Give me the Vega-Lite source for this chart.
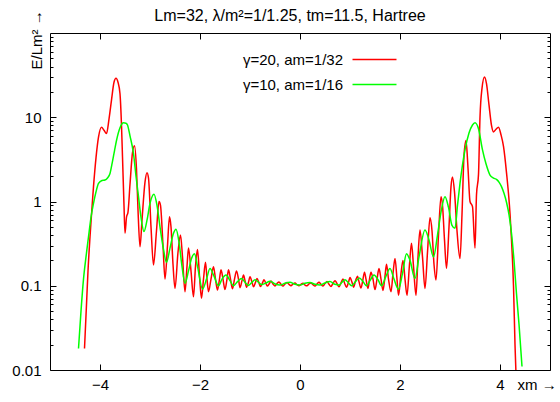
{
"$schema": "https://vega.github.io/schema/vega-lite/v6.json",
"width": 500, "height": 337,
"autosize": "none",
"padding": {"left": 50, "top": 33, "right": 10, "bottom": 32},
"background": "white",
"config": {
  "view": {"stroke": "black", "strokeWidth": 1},
  "font": "Liberation Sans",
  "axis": {"grid": false, "domain": false, "labelFont": "Liberation Sans", "labelFontSize": 15, "labelColor": "black", "tickColor": "black", "tickWidth": 1, "titleFont": "Liberation Sans", "titleFontSize": 15, "titleFontWeight": "normal", "titleColor": "black", "labelFlush": false, "labelOverlap": false}
},
"title": {"text": "Lm=32, λ/m²=1/1.25, tm=11.5, Hartree", "font": "Liberation Sans", "fontSize": 16, "fontWeight": "normal", "color": "black", "anchor": "middle", "frame": "group", "offset": -14, "dx": -10},
"datasets": {
"c": [
{"s":"γ=20, am=1/32","x":-4.31,"y":0.018},{"s":"γ=20, am=1/32","x":-4.27,"y":0.06},{"s":"γ=20, am=1/32","x":-4.24,"y":0.15},{"s":"γ=20, am=1/32","x":-4.2,"y":0.38},{"s":"γ=20, am=1/32","x":-4.16,"y":0.85},{"s":"γ=20, am=1/32","x":-4.13,"y":1.5},{"s":"γ=20, am=1/32","x":-4.08,"y":3.3},{"s":"γ=20, am=1/32","x":-4.03,"y":5.8},{"s":"γ=20, am=1/32","x":-3.97,"y":7.6},{"s":"γ=20, am=1/32","x":-3.92,"y":7.0},{"s":"γ=20, am=1/32","x":-3.87,"y":6.4},{"s":"γ=20, am=1/32","x":-3.82,"y":9.5},{"s":"γ=20, am=1/32","x":-3.77,"y":16},{"s":"γ=20, am=1/32","x":-3.72,"y":26},{"s":"γ=20, am=1/32","x":-3.68,"y":29},{"s":"γ=20, am=1/32","x":-3.64,"y":26},{"s":"γ=20, am=1/32","x":-3.6,"y":19},{"s":"γ=20, am=1/32","x":-3.57,"y":8},{"s":"γ=20, am=1/32","x":-3.55,"y":3.4},{"s":"γ=20, am=1/32","x":-3.52,"y":0.9},{"s":"γ=20, am=1/32","x":-3.5,"y":0.42},{"s":"γ=20, am=1/32","x":-3.47,"y":0.65},{"s":"γ=20, am=1/32","x":-3.44,"y":0.75},{"s":"γ=20, am=1/32","x":-3.4,"y":1.6},{"s":"γ=20, am=1/32","x":-3.35,"y":3.8},{"s":"γ=20, am=1/32","x":-3.31,"y":4.6},{"s":"γ=20, am=1/32","x":-3.27,"y":2.4},{"s":"γ=20, am=1/32","x":-3.24,"y":0.8},{"s":"γ=20, am=1/32","x":-3.2,"y":0.29},{"s":"γ=20, am=1/32","x":-3.16,"y":0.6},{"s":"γ=20, am=1/32","x":-3.1,"y":1.7},{"s":"γ=20, am=1/32","x":-3.06,"y":2.2},{"s":"γ=20, am=1/32","x":-3.03,"y":1.9},{"s":"γ=20, am=1/32","x":-2.98,"y":0.5},{"s":"γ=20, am=1/32","x":-2.93,"y":0.176},{"s":"γ=20, am=1/32","x":-2.87,"y":0.45},{"s":"γ=20, am=1/32","x":-2.82,"y":1.0},{"s":"γ=20, am=1/32","x":-2.79,"y":0.9},{"s":"γ=20, am=1/32","x":-2.74,"y":0.3},{"s":"γ=20, am=1/32","x":-2.7,"y":0.12},{"s":"γ=20, am=1/32","x":-2.65,"y":0.3},{"s":"γ=20, am=1/32","x":-2.61,"y":0.66},{"s":"γ=20, am=1/32","x":-2.58,"y":0.5},{"s":"γ=20, am=1/32","x":-2.54,"y":0.18},{"s":"γ=20, am=1/32","x":-2.5,"y":0.093},{"s":"γ=20, am=1/32","x":-2.44,"y":0.25},{"s":"γ=20, am=1/32","x":-2.39,"y":0.40},{"s":"γ=20, am=1/32","x":-2.35,"y":0.22},{"s":"γ=20, am=1/32","x":-2.3,"y":0.085},{"s":"γ=20, am=1/32","x":-2.26,"y":0.17},{"s":"γ=20, am=1/32","x":-2.23,"y":0.28},{"s":"γ=20, am=1/32","x":-2.18,"y":0.15},{"s":"γ=20, am=1/32","x":-2.13,"y":0.074},{"s":"γ=20, am=1/32","x":-2.09,"y":0.17},{"s":"γ=20, am=1/32","x":-2.05,"y":0.27},{"s":"γ=20, am=1/32","x":-2.01,"y":0.13},{"s":"γ=20, am=1/32","x":-1.97,"y":0.071},{"s":"γ=20, am=1/32","x":-1.93,"y":0.12},{"s":"γ=20, am=1/32","x":-1.89,"y":0.19},{"s":"γ=20, am=1/32","x":-1.86,"y":0.12},{"s":"γ=20, am=1/32","x":-1.83,"y":0.085},{"s":"γ=20, am=1/32","x":-1.78,"y":0.12},{"s":"γ=20, am=1/32","x":-1.73,"y":0.168},{"s":"γ=20, am=1/32","x":-1.69,"y":0.12},{"s":"γ=20, am=1/32","x":-1.65,"y":0.089},{"s":"γ=20, am=1/32","x":-1.61,"y":0.12},{"s":"γ=20, am=1/32","x":-1.58,"y":0.155},{"s":"γ=20, am=1/32","x":-1.54,"y":0.12},{"s":"γ=20, am=1/32","x":-1.5,"y":0.09},{"s":"γ=20, am=1/32","x":-1.46,"y":0.12},{"s":"γ=20, am=1/32","x":-1.43,"y":0.155},{"s":"γ=20, am=1/32","x":-1.39,"y":0.12},{"s":"γ=20, am=1/32","x":-1.35,"y":0.092},{"s":"γ=20, am=1/32","x":-1.31,"y":0.12},{"s":"γ=20, am=1/32","x":-1.27,"y":0.15},{"s":"γ=20, am=1/32","x":-1.23,"y":0.12},{"s":"γ=20, am=1/32","x":-1.2,"y":0.095},{"s":"γ=20, am=1/32","x":-1.16,"y":0.115},{"s":"γ=20, am=1/32","x":-1.13,"y":0.134},{"s":"γ=20, am=1/32","x":-1.1,"y":0.115},{"s":"γ=20, am=1/32","x":-1.07,"y":0.096},{"s":"γ=20, am=1/32","x":-1.03,"y":0.11},{"s":"γ=20, am=1/32","x":-1.0,"y":0.128},{"s":"γ=20, am=1/32","x":-0.96,"y":0.11},{"s":"γ=20, am=1/32","x":-0.93,"y":0.097},{"s":"γ=20, am=1/32","x":-0.89,"y":0.11},{"s":"γ=20, am=1/32","x":-0.86,"y":0.122},{"s":"γ=20, am=1/32","x":-0.82,"y":0.108},{"s":"γ=20, am=1/32","x":-0.79,"y":0.098},{"s":"γ=20, am=1/32","x":-0.75,"y":0.108},{"s":"γ=20, am=1/32","x":-0.72,"y":0.118},{"s":"γ=20, am=1/32","x":-0.68,"y":0.106},{"s":"γ=20, am=1/32","x":-0.65,"y":0.099},{"s":"γ=20, am=1/32","x":-0.61,"y":0.107},{"s":"γ=20, am=1/32","x":-0.58,"y":0.114},{"s":"γ=20, am=1/32","x":-0.54,"y":0.105},{"s":"γ=20, am=1/32","x":-0.5,"y":0.099},{"s":"γ=20, am=1/32","x":-0.46,"y":0.106},{"s":"γ=20, am=1/32","x":-0.42,"y":0.111},{"s":"γ=20, am=1/32","x":-0.38,"y":0.104},{"s":"γ=20, am=1/32","x":-0.34,"y":0.099},{"s":"γ=20, am=1/32","x":-0.3,"y":0.105},{"s":"γ=20, am=1/32","x":-0.26,"y":0.109},{"s":"γ=20, am=1/32","x":-0.22,"y":0.104},{"s":"γ=20, am=1/32","x":-0.18,"y":0.1},{"s":"γ=20, am=1/32","x":-0.14,"y":0.105},{"s":"γ=20, am=1/32","x":-0.1,"y":0.108},{"s":"γ=20, am=1/32","x":-0.06,"y":0.103},{"s":"γ=20, am=1/32","x":-0.02,"y":0.1},{"s":"γ=20, am=1/32","x":0.02,"y":0.104},{"s":"γ=20, am=1/32","x":0.06,"y":0.107},{"s":"γ=20, am=1/32","x":0.1,"y":0.102},{"s":"γ=20, am=1/32","x":0.14,"y":0.1},{"s":"γ=20, am=1/32","x":0.18,"y":0.105},{"s":"γ=20, am=1/32","x":0.22,"y":0.108},{"s":"γ=20, am=1/32","x":0.26,"y":0.103},{"s":"γ=20, am=1/32","x":0.3,"y":0.099},{"s":"γ=20, am=1/32","x":0.34,"y":0.105},{"s":"γ=20, am=1/32","x":0.38,"y":0.11},{"s":"γ=20, am=1/32","x":0.42,"y":0.104},{"s":"γ=20, am=1/32","x":0.46,"y":0.099},{"s":"γ=20, am=1/32","x":0.5,"y":0.106},{"s":"γ=20, am=1/32","x":0.54,"y":0.112},{"s":"γ=20, am=1/32","x":0.58,"y":0.104},{"s":"γ=20, am=1/32","x":0.62,"y":0.098},{"s":"γ=20, am=1/32","x":0.66,"y":0.107},{"s":"γ=20, am=1/32","x":0.7,"y":0.115},{"s":"γ=20, am=1/32","x":0.74,"y":0.106},{"s":"γ=20, am=1/32","x":0.78,"y":0.097},{"s":"γ=20, am=1/32","x":0.82,"y":0.108},{"s":"γ=20, am=1/32","x":0.86,"y":0.12},{"s":"γ=20, am=1/32","x":0.89,"y":0.108},{"s":"γ=20, am=1/32","x":0.93,"y":0.096},{"s":"γ=20, am=1/32","x":0.97,"y":0.11},{"s":"γ=20, am=1/32","x":1.0,"y":0.125},{"s":"γ=20, am=1/32","x":1.04,"y":0.11},{"s":"γ=20, am=1/32","x":1.07,"y":0.096},{"s":"γ=20, am=1/32","x":1.11,"y":0.114},{"s":"γ=20, am=1/32","x":1.15,"y":0.13},{"s":"γ=20, am=1/32","x":1.18,"y":0.112},{"s":"γ=20, am=1/32","x":1.22,"y":0.094},{"s":"γ=20, am=1/32","x":1.26,"y":0.12},{"s":"γ=20, am=1/32","x":1.29,"y":0.145},{"s":"γ=20, am=1/32","x":1.32,"y":0.12},{"s":"γ=20, am=1/32","x":1.36,"y":0.093},{"s":"γ=20, am=1/32","x":1.39,"y":0.12},{"s":"γ=20, am=1/32","x":1.42,"y":0.145},{"s":"γ=20, am=1/32","x":1.46,"y":0.12},{"s":"γ=20, am=1/32","x":1.5,"y":0.09},{"s":"γ=20, am=1/32","x":1.54,"y":0.12},{"s":"γ=20, am=1/32","x":1.58,"y":0.16},{"s":"γ=20, am=1/32","x":1.62,"y":0.12},{"s":"γ=20, am=1/32","x":1.66,"y":0.088},{"s":"γ=20, am=1/32","x":1.7,"y":0.13},{"s":"γ=20, am=1/32","x":1.73,"y":0.18},{"s":"γ=20, am=1/32","x":1.77,"y":0.12},{"s":"γ=20, am=1/32","x":1.82,"y":0.085},{"s":"γ=20, am=1/32","x":1.86,"y":0.14},{"s":"γ=20, am=1/32","x":1.9,"y":0.21},{"s":"γ=20, am=1/32","x":1.94,"y":0.12},{"s":"γ=20, am=1/32","x":1.97,"y":0.077},{"s":"γ=20, am=1/32","x":2.02,"y":0.14},{"s":"γ=20, am=1/32","x":2.06,"y":0.2},{"s":"γ=20, am=1/32","x":2.1,"y":0.12},{"s":"γ=20, am=1/32","x":2.14,"y":0.077},{"s":"γ=20, am=1/32","x":2.19,"y":0.18},{"s":"γ=20, am=1/32","x":2.23,"y":0.32},{"s":"γ=20, am=1/32","x":2.27,"y":0.17},{"s":"γ=20, am=1/32","x":2.32,"y":0.077},{"s":"γ=20, am=1/32","x":2.36,"y":0.22},{"s":"γ=20, am=1/32","x":2.4,"y":0.46},{"s":"γ=20, am=1/32","x":2.45,"y":0.22},{"s":"γ=20, am=1/32","x":2.5,"y":0.093},{"s":"γ=20, am=1/32","x":2.55,"y":0.25},{"s":"γ=20, am=1/32","x":2.6,"y":0.64},{"s":"γ=20, am=1/32","x":2.64,"y":0.45},{"s":"γ=20, am=1/32","x":2.68,"y":0.18},{"s":"γ=20, am=1/32","x":2.72,"y":0.117},{"s":"γ=20, am=1/32","x":2.77,"y":0.4},{"s":"γ=20, am=1/32","x":2.82,"y":1.14},{"s":"γ=20, am=1/32","x":2.85,"y":0.9},{"s":"γ=20, am=1/32","x":2.89,"y":0.35},{"s":"γ=20, am=1/32","x":2.93,"y":0.16},{"s":"γ=20, am=1/32","x":2.98,"y":0.5},{"s":"γ=20, am=1/32","x":3.02,"y":1.5},{"s":"γ=20, am=1/32","x":3.05,"y":1.96},{"s":"γ=20, am=1/32","x":3.09,"y":1.3},{"s":"γ=20, am=1/32","x":3.14,"y":0.45},{"s":"γ=20, am=1/32","x":3.2,"y":0.21},{"s":"γ=20, am=1/32","x":3.24,"y":0.7},{"s":"γ=20, am=1/32","x":3.28,"y":3.5},{"s":"γ=20, am=1/32","x":3.32,"y":5.3},{"s":"γ=20, am=1/32","x":3.36,"y":2.5},{"s":"γ=20, am=1/32","x":3.4,"y":1.0},{"s":"γ=20, am=1/32","x":3.45,"y":0.87},{"s":"γ=20, am=1/32","x":3.5,"y":0.28},{"s":"γ=20, am=1/32","x":3.53,"y":1.2},{"s":"γ=20, am=1/32","x":3.57,"y":2.1},{"s":"γ=20, am=1/32","x":3.6,"y":10},{"s":"γ=20, am=1/32","x":3.64,"y":22},{"s":"γ=20, am=1/32","x":3.69,"y":30},{"s":"γ=20, am=1/32","x":3.73,"y":25},{"s":"γ=20, am=1/32","x":3.78,"y":14},{"s":"γ=20, am=1/32","x":3.83,"y":8},{"s":"γ=20, am=1/32","x":3.87,"y":6.7},{"s":"γ=20, am=1/32","x":3.92,"y":7.2},{"s":"γ=20, am=1/32","x":3.97,"y":7.6},{"s":"γ=20, am=1/32","x":4.02,"y":6.2},{"s":"γ=20, am=1/32","x":4.07,"y":4.5},{"s":"γ=20, am=1/32","x":4.13,"y":2.2},{"s":"γ=20, am=1/32","x":4.2,"y":0.72},{"s":"γ=20, am=1/32","x":4.23,"y":0.35},{"s":"γ=20, am=1/32","x":4.27,"y":0.1},{"s":"γ=20, am=1/32","x":4.3,"y":0.02},{"s":"γ=20, am=1/32","x":4.33,"y":0.006},
{"s":"γ=10, am=1/16","x":-4.43,"y":0.018},{"s":"γ=10, am=1/16","x":-4.38,"y":0.05},{"s":"γ=10, am=1/16","x":-4.33,"y":0.12},{"s":"γ=10, am=1/16","x":-4.28,"y":0.22},{"s":"γ=10, am=1/16","x":-4.23,"y":0.38},{"s":"γ=10, am=1/16","x":-4.18,"y":0.65},{"s":"γ=10, am=1/16","x":-4.13,"y":0.95},{"s":"γ=10, am=1/16","x":-4.08,"y":1.3},{"s":"γ=10, am=1/16","x":-4.03,"y":1.64},{"s":"γ=10, am=1/16","x":-3.96,"y":1.78},{"s":"γ=10, am=1/16","x":-3.9,"y":1.8},{"s":"γ=10, am=1/16","x":-3.85,"y":1.9},{"s":"γ=10, am=1/16","x":-3.8,"y":2.15},{"s":"γ=10, am=1/16","x":-3.75,"y":3.0},{"s":"γ=10, am=1/16","x":-3.71,"y":4.0},{"s":"γ=10, am=1/16","x":-3.67,"y":5.3},{"s":"γ=10, am=1/16","x":-3.6,"y":7.5},{"s":"γ=10, am=1/16","x":-3.53,"y":8.6},{"s":"γ=10, am=1/16","x":-3.48,"y":8.5},{"s":"γ=10, am=1/16","x":-3.45,"y":8.1},{"s":"γ=10, am=1/16","x":-3.4,"y":6},{"s":"γ=10, am=1/16","x":-3.33,"y":3.7},{"s":"γ=10, am=1/16","x":-3.28,"y":2.0},{"s":"γ=10, am=1/16","x":-3.23,"y":1.14},{"s":"γ=10, am=1/16","x":-3.18,"y":0.65},{"s":"γ=10, am=1/16","x":-3.12,"y":0.44},{"s":"γ=10, am=1/16","x":-3.06,"y":0.6},{"s":"γ=10, am=1/16","x":-3.0,"y":0.95},{"s":"γ=10, am=1/16","x":-2.92,"y":1.22},{"s":"γ=10, am=1/16","x":-2.86,"y":0.9},{"s":"γ=10, am=1/16","x":-2.8,"y":0.5},{"s":"γ=10, am=1/16","x":-2.73,"y":0.27},{"s":"γ=10, am=1/16","x":-2.67,"y":0.19},{"s":"γ=10, am=1/16","x":-2.6,"y":0.28},{"s":"γ=10, am=1/16","x":-2.53,"y":0.42},{"s":"γ=10, am=1/16","x":-2.48,"y":0.47},{"s":"γ=10, am=1/16","x":-2.42,"y":0.33},{"s":"γ=10, am=1/16","x":-2.36,"y":0.17},{"s":"γ=10, am=1/16","x":-2.3,"y":0.107},{"s":"γ=10, am=1/16","x":-2.23,"y":0.15},{"s":"γ=10, am=1/16","x":-2.17,"y":0.21},{"s":"γ=10, am=1/16","x":-2.11,"y":0.24},{"s":"γ=10, am=1/16","x":-2.05,"y":0.17},{"s":"γ=10, am=1/16","x":-1.95,"y":0.091},{"s":"γ=10, am=1/16","x":-1.87,"y":0.12},{"s":"γ=10, am=1/16","x":-1.8,"y":0.16},{"s":"γ=10, am=1/16","x":-1.72,"y":0.13},{"s":"γ=10, am=1/16","x":-1.63,"y":0.1},{"s":"γ=10, am=1/16","x":-1.56,"y":0.12},{"s":"γ=10, am=1/16","x":-1.48,"y":0.134},{"s":"γ=10, am=1/16","x":-1.4,"y":0.115},{"s":"γ=10, am=1/16","x":-1.33,"y":0.1},{"s":"γ=10, am=1/16","x":-1.25,"y":0.112},{"s":"γ=10, am=1/16","x":-1.17,"y":0.122},{"s":"γ=10, am=1/16","x":-1.1,"y":0.11},{"s":"γ=10, am=1/16","x":-1.03,"y":0.101},{"s":"γ=10, am=1/16","x":-0.96,"y":0.11},{"s":"γ=10, am=1/16","x":-0.9,"y":0.118},{"s":"γ=10, am=1/16","x":-0.83,"y":0.11},{"s":"γ=10, am=1/16","x":-0.77,"y":0.103},{"s":"γ=10, am=1/16","x":-0.68,"y":0.108},{"s":"γ=10, am=1/16","x":-0.6,"y":0.113},{"s":"γ=10, am=1/16","x":-0.5,"y":0.105},{"s":"γ=10, am=1/16","x":-0.4,"y":0.102},{"s":"γ=10, am=1/16","x":-0.3,"y":0.107},{"s":"γ=10, am=1/16","x":-0.2,"y":0.11},{"s":"γ=10, am=1/16","x":-0.1,"y":0.104},{"s":"γ=10, am=1/16","x":0.0,"y":0.102},{"s":"γ=10, am=1/16","x":0.1,"y":0.107},{"s":"γ=10, am=1/16","x":0.2,"y":0.109},{"s":"γ=10, am=1/16","x":0.3,"y":0.104},{"s":"γ=10, am=1/16","x":0.4,"y":0.102},{"s":"γ=10, am=1/16","x":0.5,"y":0.108},{"s":"γ=10, am=1/16","x":0.6,"y":0.112},{"s":"γ=10, am=1/16","x":0.7,"y":0.104},{"s":"γ=10, am=1/16","x":0.78,"y":0.102},{"s":"γ=10, am=1/16","x":0.84,"y":0.11},{"s":"γ=10, am=1/16","x":0.9,"y":0.118},{"s":"γ=10, am=1/16","x":0.97,"y":0.108},{"s":"γ=10, am=1/16","x":1.03,"y":0.1},{"s":"γ=10, am=1/16","x":1.11,"y":0.112},{"s":"γ=10, am=1/16","x":1.19,"y":0.124},{"s":"γ=10, am=1/16","x":1.26,"y":0.112},{"s":"γ=10, am=1/16","x":1.33,"y":0.1},{"s":"γ=10, am=1/16","x":1.4,"y":0.115},{"s":"γ=10, am=1/16","x":1.48,"y":0.134},{"s":"γ=10, am=1/16","x":1.56,"y":0.118},{"s":"γ=10, am=1/16","x":1.63,"y":0.1},{"s":"γ=10, am=1/16","x":1.72,"y":0.13},{"s":"γ=10, am=1/16","x":1.8,"y":0.16},{"s":"γ=10, am=1/16","x":1.88,"y":0.12},{"s":"γ=10, am=1/16","x":1.97,"y":0.091},{"s":"γ=10, am=1/16","x":2.05,"y":0.14},{"s":"γ=10, am=1/16","x":2.13,"y":0.24},{"s":"γ=10, am=1/16","x":2.2,"y":0.2},{"s":"γ=10, am=1/16","x":2.3,"y":0.122},{"s":"γ=10, am=1/16","x":2.38,"y":0.22},{"s":"γ=10, am=1/16","x":2.5,"y":0.46},{"s":"γ=10, am=1/16","x":2.58,"y":0.35},{"s":"γ=10, am=1/16","x":2.67,"y":0.22},{"s":"γ=10, am=1/16","x":2.75,"y":0.4},{"s":"γ=10, am=1/16","x":2.82,"y":0.75},{"s":"γ=10, am=1/16","x":2.9,"y":1.14},{"s":"γ=10, am=1/16","x":2.97,"y":0.85},{"s":"γ=10, am=1/16","x":3.04,"y":0.52},{"s":"γ=10, am=1/16","x":3.1,"y":0.48},{"s":"γ=10, am=1/16","x":3.15,"y":0.9},{"s":"γ=10, am=1/16","x":3.2,"y":1.64},{"s":"γ=10, am=1/16","x":3.3,"y":4.1},{"s":"γ=10, am=1/16","x":3.38,"y":6.5},{"s":"γ=10, am=1/16","x":3.45,"y":8.1},{"s":"γ=10, am=1/16","x":3.5,"y":8.6},{"s":"γ=10, am=1/16","x":3.57,"y":7.3},{"s":"γ=10, am=1/16","x":3.65,"y":4.1},{"s":"γ=10, am=1/16","x":3.72,"y":2.8},{"s":"γ=10, am=1/16","x":3.8,"y":2.06},{"s":"γ=10, am=1/16","x":3.87,"y":1.9},{"s":"γ=10, am=1/16","x":3.93,"y":1.83},{"s":"γ=10, am=1/16","x":3.98,"y":1.7},{"s":"γ=10, am=1/16","x":4.03,"y":1.5},{"s":"γ=10, am=1/16","x":4.08,"y":1.25},{"s":"γ=10, am=1/16","x":4.13,"y":0.98},{"s":"γ=10, am=1/16","x":4.18,"y":0.7},{"s":"γ=10, am=1/16","x":4.23,"y":0.42},{"s":"γ=10, am=1/16","x":4.28,"y":0.2},{"s":"γ=10, am=1/16","x":4.33,"y":0.08},{"s":"γ=10, am=1/16","x":4.38,"y":0.035},{"s":"γ=10, am=1/16","x":4.44,"y":0.011}
]},
"layer": [
 {
  "data": {"name": "c"},
  "mark": {"type": "line", "strokeWidth": 1.5, "interpolate": "monotone", "clip": true},
  "encoding": {
   "x": {"field": "x", "type": "quantitative", "scale": {"domain": [-5, 5], "nice": false, "zero": false},
     "axis": {"orient": "bottom", "values": [-4, -2, 0, 2, 4], "tickSize": -6, "labelPadding": 13, "title": "xm →", "titleX": 467, "titleY": 7, "titleAlign": "left", "titleBaseline": "top", "titleAngle": 0}},
   "y": {"field": "y", "type": "quantitative", "scale": {"type": "log", "domain": [0.01, 100], "nice": false},
     "axis": {"orient": "left", "values": [0.01, 0.1, 1, 10], "tickSize": -6, "labelPadding": 15, "format": "~g", "title": "E/Lm² →", "titleAngle": -90, "titleX": -14, "titleY": 36, "titleAlign": "left", "titleBaseline": "middle"}},
   "color": {"field": "s", "type": "nominal", "scale": {"domain": ["γ=20, am=1/32", "γ=10, am=1/16"], "range": ["#ff0000", "#00ff00"]},
     "legend": {"orient": "none", "legendX": 316, "legendY": 18, "title": null, "symbolType": "M-3,0H3", "symbolSize": 215, "symbolStrokeWidth": 1.5, "labelAlign": "right", "labelOffset": -40, "labelFont": "Liberation Sans", "labelFontSize": 15, "labelColor": "black", "labelLimit": 300, "rowPadding": 8, "padding": 0}}
  }
 },
 {
  "data": {"name": "c"},
  "mark": {"type": "point", "opacity": 0},
  "encoding": {
   "x": {"field": "x", "type": "quantitative", "scale": {"domain": [-5, 5], "nice": false, "zero": false},
     "axis": {"orient": "top", "values": [-4, -2, 0, 2, 4], "tickSize": -6, "labels": false, "title": null}},
   "y": {"field": "y", "type": "quantitative", "scale": {"type": "log", "domain": [0.01, 100], "nice": false},
     "axis": {"orient": "right", "values": [0.01, 0.1, 1, 10], "tickSize": -6, "labels": false, "title": null}}
  }
 },
 {
  "data": {"name": "c"},
  "mark": {"type": "point", "opacity": 0},
  "encoding": {
   "y": {"field": "y", "type": "quantitative", "scale": {"type": "log", "domain": [0.01, 100], "nice": false},
     "axis": {"orient": "left", "values": [0.02,0.03,0.04,0.05,0.06,0.07,0.08,0.09,0.2,0.3,0.4,0.5,0.6,0.7,0.8,0.9,2,3,4,5,6,7,8,9,20,30,40,50,60,70,80,90], "tickSize": -3, "labels": false, "title": null}}
  }
 },
 {
  "data": {"name": "c"},
  "mark": {"type": "point", "opacity": 0},
  "encoding": {
   "y": {"field": "y", "type": "quantitative", "scale": {"type": "log", "domain": [0.01, 100], "nice": false},
     "axis": {"orient": "right", "values": [0.02,0.03,0.04,0.05,0.06,0.07,0.08,0.09,0.2,0.3,0.4,0.5,0.6,0.7,0.8,0.9,2,3,4,5,6,7,8,9,20,30,40,50,60,70,80,90], "tickSize": -3, "labels": false, "title": null}}
  }
 }
],
"resolve": {"axis": {"x": "independent", "y": "independent"}}
}
